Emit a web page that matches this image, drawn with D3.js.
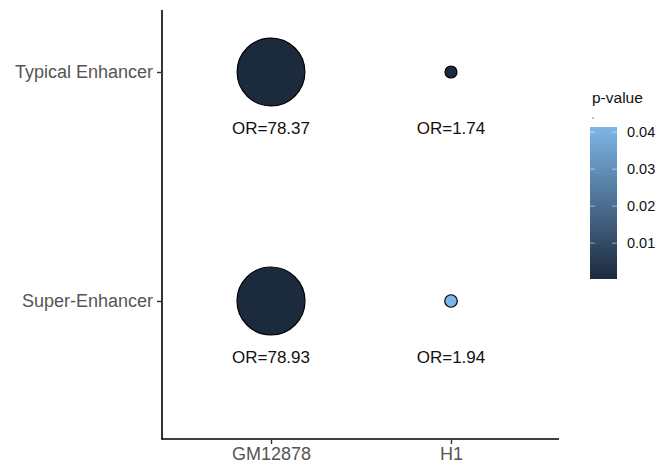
<!DOCTYPE html>
<html>
<head>
<meta charset="utf-8">
<script src="https://cdn.jsdelivr.net/npm/d3@7"></script>
<style>
  body { margin: 0; background: #fff; }
  text { font-family: "Liberation Sans", Arial, sans-serif; }
</style>
</head>
<body>
<script>
// enrichment dot plot: size = odds ratio, fill = p-value

var cellLines = ["GM12878", "H1"];
var enhancerTypes = ["Typical Enhancer", "Super-Enhancer"];
var oddsRatios = [78.37, 1.74, 78.93, 1.94];   // row-wise: typical (GM, H1), super (GM, H1)
var pValues = [0.0003, 0.0004, 0.0003, 0.0414];
var legendTicks = [0.01, 0.02, 0.03, 0.04];

var points = [];
enhancerTypes.forEach(function(t, i) {
    cellLines.forEach(function(c, j) {
        var k = i * cellLines.length + j;
        points.push({ cell: c, type: t, or: oddsRatios[k], p: pValues[k] });
    });
});

var svg = d3.select("body").append("svg")
    .attr("width", 657)
    .attr("height", 464);

var panel = { left: 162, right: 559, top: 10, bottom: 439 };

var x = d3.scalePoint().domain(cellLines).range([271, 451]);
var y = d3.scalePoint().domain(enhancerTypes).range([72, 301]);

var size = d3.scaleSqrt()
    .domain(d3.extent(oddsRatios))
    .range([6, 34]);

var pExtent = [0.0003, 0.0414];
var color = d3.scaleLinear()
    .domain(pExtent)
    .range(["#1C2A3E", "#7DB6E8"]);

// axes lines
svg.append("line")
    .attr("x1", panel.left).attr("x2", panel.left)
    .attr("y1", panel.top).attr("y2", panel.bottom + 0.5)
    .attr("stroke", "#000").attr("stroke-width", 1.6);
svg.append("line")
    .attr("x1", panel.left - 0.5).attr("x2", panel.right)
    .attr("y1", panel.bottom).attr("y2", panel.bottom)
    .attr("stroke", "#000").attr("stroke-width", 1.6);

var yAxis = svg.append("g")
    .attr("transform", "translate(" + panel.left + ",0)")
    .call(d3.axisLeft(y).tickSize(5).tickPadding(4));
yAxis.select(".domain").remove();
yAxis.selectAll("line").attr("stroke", "#333").attr("stroke-width", 1.4);
yAxis.selectAll("text")
    .attr("fill", "#555")
    .style("font-size", "18px")
    .style("font-family", "Liberation Sans, Arial, sans-serif");

var xAxis = svg.append("g")
    .attr("transform", "translate(0," + panel.bottom + ")")
    .call(d3.axisBottom(x).tickSize(5).tickPadding(3));
xAxis.select(".domain").remove();
xAxis.selectAll("line").attr("stroke", "#333").attr("stroke-width", 1.4);
xAxis.selectAll("text")
    .attr("fill", "#555")
    .style("font-size", "18px")
    .style("font-family", "Liberation Sans, Arial, sans-serif");

// dots
svg.append("g").selectAll("circle")
    .data(points)
    .enter().append("circle")
    .attr("cx", function(d) { return x(d.cell); })
    .attr("cy", function(d) { return y(d.type); })
    .attr("r", function(d) { return size(d.or); })
    .attr("fill", function(d) { return color(d.p); })
    .attr("stroke", "#000")
    .attr("stroke-width", 1.2);

// OR labels
svg.append("g").selectAll("text")
    .data(points)
    .enter().append("text")
    .attr("x", function(d) { return x(d.cell); })
    .attr("y", function(d) { return y(d.type) + 62; })
    .attr("text-anchor", "middle")
    .style("font-size", "17px")
    .attr("fill", "#111")
    .text(function(d) { return "OR=" + d.or.toFixed(2); });

// colour legend
var legend = svg.append("g").attr("transform", "translate(590,0)");
legend.append("text")
    .attr("x", 2).attr("y", 103)
    .style("font-size", "15.5px")
    .attr("fill", "#111")
    .text("p-value");
legend.append("circle")
    .attr("cx", 3).attr("cy", 118).attr("r", 0.7).attr("fill", "#555");

var barTop = 127, barBottom = 279, barW = 27;
var grad = svg.append("defs").append("linearGradient")
    .attr("id", "pgrad")
    .attr("x1", 0).attr("x2", 0).attr("y1", 1).attr("y2", 0);
grad.append("stop").attr("offset", "0%").attr("stop-color", color(pExtent[0]));
grad.append("stop").attr("offset", "100%").attr("stop-color", color(pExtent[1]));

legend.append("rect")
    .attr("x", 0).attr("y", barTop)
    .attr("width", barW).attr("height", barBottom - barTop)
    .attr("fill", "url(#pgrad)");

var ly = d3.scaleLinear().domain(pExtent).range([barBottom, barTop]);
var lt = legend.selectAll(".lt")
    .data(legendTicks)
    .enter().append("g")
    .attr("transform", function(d) { return "translate(0," + ly(d) + ")"; });
lt.append("line").attr("x1", 0).attr("x2", 5)
    .attr("stroke", "#fff").attr("stroke-opacity", 0.5);
lt.append("line").attr("x1", barW - 5).attr("x2", barW)
    .attr("stroke", "#fff").attr("stroke-opacity", 0.5);
lt.append("text")
    .attr("x", barW + 10).attr("dy", "0.35em")
    .style("font-size", "14.5px")
    .attr("fill", "#111")
    .text(function(d) { return d.toFixed(2); });
</script>
</body>
</html>
